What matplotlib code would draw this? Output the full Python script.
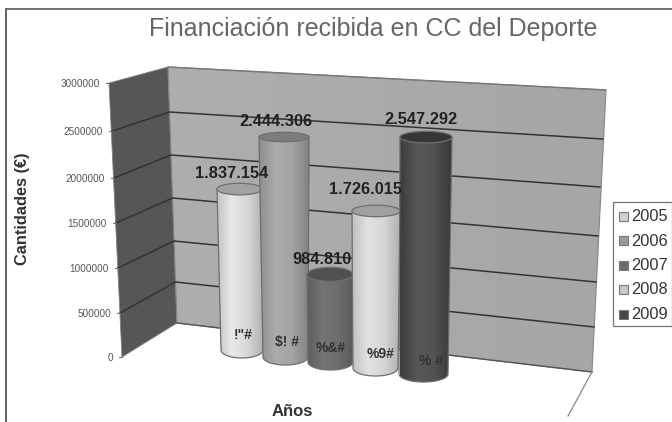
import numpy as np
import matplotlib
matplotlib.use('Agg')
from matplotlib import pyplot as plt
from matplotlib.colors import LinearSegmentedColormap
from matplotlib.patches import Ellipse, Polygon, PathPatch, Rectangle
from matplotlib.path import Path

plt.rcParams['font.family'] = ['Liberation Sans', 'DejaVu Sans']

# data
years = ['2005', '2006', '2007', '2008', '2009']
values = [1837154, 2444306, 984810, 1726015, 2547292]
value_labels = ['1.837.154', '2.444.306', '984.810', '1.726.015', '2.547.292']
inner_labels = ['!"#', '$! #', '%&#', '%9#', '% #']
axis_ticks = [0, 500000, 1000000, 1500000, 2000000, 2500000, 3000000]
title = 'Financiación recibida en CC del Deporte'

# the picture is a fake 3d chart, so everything is placed in pixels
fig = plt.figure(figsize=(6.72, 4.22), dpi=100)
ax = fig.add_axes([0, 0, 1, 1])
ax.set_xlim(0, 672)
ax.set_ylim(422, 0)
ax.axis('off')

# outer frame
ax.plot([6, 6], [422, 9], color='#555555', lw=1.3)
ax.plot([6, 672], [9, 9], color='#666666', lw=1.3)

# wall corners, one point per tick because of the perspective
front_x = [122, 120, 118, 116, 114, 112, 109]
front_y = [357, 313, 268, 223, 178, 131, 83]
corner_x = [177, 175.5, 174, 172.5, 171, 169.5, 168]
corner_y = [323, 282, 241, 198, 155, 112, 67]
right_x_w = [592, 594, 596, 598, 600, 603, 606]
right_y_w = [372, 327, 282, 236, 187, 139, 90]

ax.add_patch(Polygon([(front_x[0], front_y[0]), (front_x[-1], front_y[-1]),
                      (corner_x[-1], corner_y[-1]), (corner_x[0], corner_y[0])],
                     fc='#565656', ec='#808080', lw=0.6))

grad = np.linspace(0, 1, 200).reshape(1, -1)
cm_wall = LinearSegmentedColormap.from_list('wall', ['#aeaeae', '#a6a6a6'])
im = ax.imshow(grad, extent=[165, 610, 375, 65], cmap=cm_wall, aspect='auto', zorder=1)
wall = Polygon([(corner_x[0], corner_y[0]), (corner_x[-1], corner_y[-1]),
                (right_x_w[-1], right_y_w[-1]), (right_x_w[0], right_y_w[0])],
               fc='none', ec='#858585', lw=0.8, zorder=1.5)
ax.add_patch(wall)
im.set_clip_path(wall)

for i, v in enumerate(axis_ticks):
    fx, fy = front_x[i], front_y[i]
    if 0 < i < 6:
        ax.plot([fx, corner_x[i], right_x_w[i]], [fy, corner_y[i], right_y_w[i]],
                color='#333333', lw=1.1, zorder=2)
    elif i == 0:
        ax.plot([corner_x[i], right_x_w[i]], [corner_y[i], right_y_w[i]], color='#555555', lw=1.0, zorder=2)
    else:
        ax.plot([corner_x[i], right_x_w[i]], [corner_y[i], right_y_w[i]], color='#777777', lw=1.0, zorder=2)
    ax.plot([fx - 3, fx], [fy, fy], color='#777777', lw=0.8, zorder=2)
    ax.text(fx - 9, fy + 1, str(v), ha='right', va='center', fontsize=7.2, color='#555555')

# floor edge on the right
ax.plot([592, 568], [372, 416], color='#888888', lw=0.9, zorder=2)

# cylinders
left_x = [217, 259, 307, 352, 400]
right_x = [262, 309, 353, 400, 452]
base_left = [221, 263, 308, 353, 399]
base_right = [263, 308, 353, 398, 448]
base_y = [350, 357, 362, 368, 374]
px_per_unit = [8.76e-5, 9.0e-5, 8.9e-5, 9.1e-5, 9.3e-5]
top_ry = [5.8, 4.7, 7, 5.8, 5.8]
side_shades = [
    ['#c4c4c4', '#e8e8e8', '#d8d8d8', '#b4b4b4'],
    ['#8e8e8e', '#ababab', '#a4a4a4', '#828282'],
    ['#5e5e5e', '#747474', '#6e6e6e', '#5a5a5a'],
    ['#c0c0c0', '#e2e2e2', '#d6d6d6', '#b0b0b0'],
    ['#3c3c3c', '#585858', '#525252', '#383838'],
]
top_shades = ['#a2a2a2', '#7c7c7c', '#505050', '#a0a0a0', '#363636']
legend_shades = ['#cfcfcf', '#9a9a9a', '#6a6a6a', '#c8c8c8', '#484848']
label_x = [232, 276, 322, 365, 421]
label_y = [174, 122, 259, 190, 120]
inner_x = [243, 287, 331, 381, 431]
inner_y = [335, 342, 348, 354, 361]

for i, v in enumerate(values):
    top = base_y[i] - v * px_per_unit[i]
    rt = (right_x[i] - left_x[i]) / 2
    rb = (base_right[i] - base_left[i]) / 2
    cxt = (right_x[i] + left_x[i]) / 2
    cxb = (base_right[i] + base_left[i]) / 2
    ry = 8
    z = 3 + i
    # body outline: straight sides and round bottom
    arc = np.linspace(0, np.pi, 30)
    verts = [(left_x[i], top), (right_x[i], top)]
    verts += [(cxb + rb * np.cos(a), base_y[i] + ry * np.sin(a)) for a in arc]
    body = PathPatch(Path(verts + [verts[0]]), fc='none', ec='#6e6e6e', lw=0.9, zorder=z + 0.1)
    ax.add_patch(body)
    cm = LinearSegmentedColormap.from_list('c%d' % i, side_shades[i])
    im = ax.imshow(grad, extent=[left_x[i], right_x[i], base_y[i] + ry + 1, top], cmap=cm, aspect='auto', zorder=z)
    im.set_clip_path(body)
    ax.add_patch(Ellipse((cxt, top), 2 * rt, 2 * top_ry[i], fc=top_shades[i], ec='#6e6e6e', lw=0.9, zorder=z + 0.2))
    ax.text(label_x[i], label_y[i], value_labels[i], ha='center', va='center', fontsize=11.8,
            fontweight='bold', color='#222222', zorder=12)
    ax.text(inner_x[i], inner_y[i], inner_labels[i], ha='center', va='center', fontsize=10,
            fontweight='bold', color='#333333', zorder=12)
ax.set_xlim(0, 672)
ax.set_ylim(422, 0)

# titles
ax.text(373, 29, title, ha='center', va='center', fontsize=18, color='#666666')
ax.text(23, 209, 'Cantidades (€)', rotation=90, ha='center', va='center', fontsize=11.8,
        fontweight='bold', color='#333333')
ax.text(292, 411, 'Años', ha='center', va='center', fontsize=12, fontweight='bold', color='#333333')

# legend
ax.add_patch(Rectangle((613, 202), 59, 124, fc='white', ec='#777777', lw=0.9, zorder=2))
for i, y in enumerate(years):
    ly = 216 + i * 24.5
    ax.add_patch(Rectangle((619, ly - 4.5), 9, 9, fc=legend_shades[i], ec='#777777', lw=0.8, zorder=3))
    ax.text(631, ly + 0.5, y, ha='left', va='center', fontsize=11.8, color='#333333', zorder=3)

plt.savefig('out.png', dpi=100)
